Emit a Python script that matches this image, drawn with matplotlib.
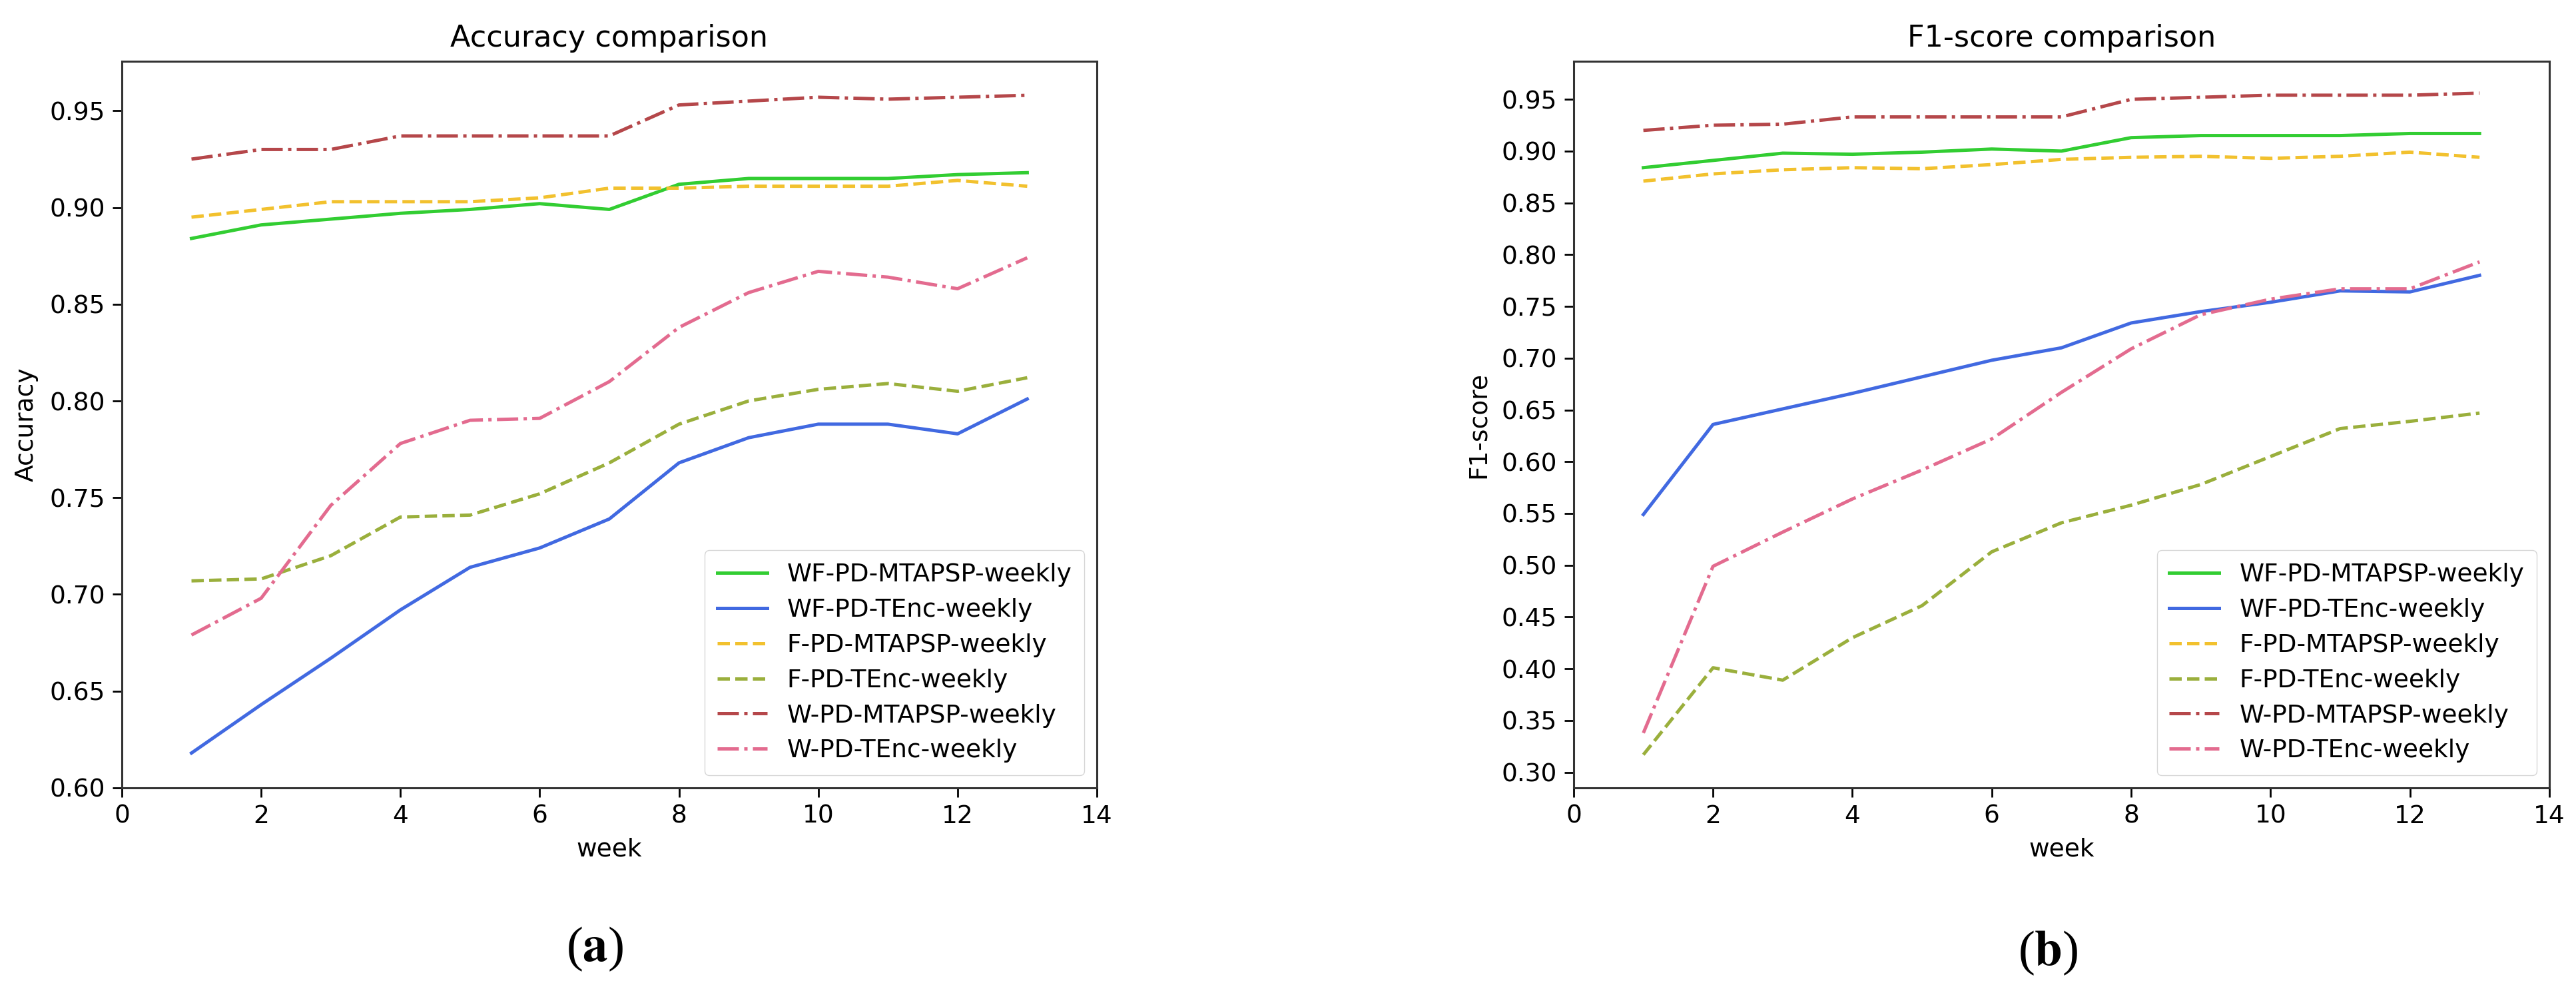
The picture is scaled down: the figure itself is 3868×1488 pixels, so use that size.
import matplotlib
matplotlib.use("Agg")
import matplotlib.pyplot as plt
from matplotlib.ticker import MultipleLocator, FormatStrFormatter

weeks = list(range(1, 14))

labels = [
    "WF-PD-MTAPSP-weekly",
    "WF-PD-TEnc-weekly",
    "F-PD-MTAPSP-weekly",
    "F-PD-TEnc-weekly",
    "W-PD-MTAPSP-weekly",
    "W-PD-TEnc-weekly",
]
colors = ["#32cd32", "#4169e1", "#f2c12e", "#9aaf3c", "#b5474a", "#e36b8f"]
styles = ["-", "-", "--", "--", "-.", "-."]

# accuracy per week
acc_wf_mtapsp = [0.884, 0.891, 0.894, 0.897, 0.899, 0.902, 0.899, 0.912, 0.915, 0.915, 0.915, 0.917, 0.918]
acc_wf_tenc = [0.618, 0.643, 0.667, 0.692, 0.714, 0.724, 0.739, 0.768, 0.781, 0.788, 0.788, 0.783, 0.801]
acc_f_mtapsp = [0.895, 0.899, 0.903, 0.903, 0.903, 0.905, 0.910, 0.910, 0.911, 0.911, 0.911, 0.914, 0.911]
acc_f_tenc = [0.707, 0.708, 0.720, 0.740, 0.741, 0.752, 0.768, 0.788, 0.800, 0.806, 0.809, 0.805, 0.812]
acc_w_mtapsp = [0.925, 0.930, 0.930, 0.937, 0.937, 0.937, 0.937, 0.953, 0.955, 0.957, 0.956, 0.957, 0.958]
acc_w_tenc = [0.679, 0.698, 0.746, 0.778, 0.790, 0.791, 0.810, 0.838, 0.856, 0.867, 0.864, 0.858, 0.874]

# f1-score per week
f1_wf_mtapsp = [0.884, 0.891, 0.898, 0.897, 0.899, 0.902, 0.900, 0.913, 0.915, 0.915, 0.915, 0.917, 0.917]
f1_wf_tenc = [0.549, 0.636, 0.651, 0.666, 0.682, 0.698, 0.710, 0.734, 0.745, 0.754, 0.765, 0.764, 0.780]
f1_f_mtapsp = [0.871, 0.878, 0.882, 0.884, 0.883, 0.887, 0.892, 0.894, 0.895, 0.893, 0.895, 0.899, 0.894]
f1_f_tenc = [0.317, 0.401, 0.389, 0.430, 0.461, 0.513, 0.541, 0.558, 0.578, 0.605, 0.632, 0.639, 0.647]
f1_w_mtapsp = [0.920, 0.925, 0.926, 0.933, 0.933, 0.933, 0.933, 0.950, 0.952, 0.954, 0.954, 0.954, 0.956]
f1_w_tenc = [0.338, 0.499, 0.532, 0.564, 0.592, 0.622, 0.667, 0.709, 0.742, 0.757, 0.767, 0.767, 0.793]

acc_series = [acc_wf_mtapsp, acc_wf_tenc, acc_f_mtapsp, acc_f_tenc, acc_w_mtapsp, acc_w_tenc]
f1_series = [f1_wf_mtapsp, f1_wf_tenc, f1_f_mtapsp, f1_f_tenc, f1_w_mtapsp, f1_w_tenc]

plt.rcParams["font.family"] = ["DejaVu Sans"]
plt.rcParams["mathtext.fontset"] = "stix"

fig = plt.figure(figsize=(38.68, 14.88), dpi=100)

panels = [
    ([0.0473, 0.205, 0.3785, 0.733], acc_series, "Accuracy comparison", "Accuracy",
     (0.600, 0.9755), "a", (0.2309, 0.042)),
    ([0.6109, 0.205, 0.3787, 0.733], f1_series, "F1-score comparison", "F1-score",
     (0.285, 0.9866), "b", (0.795, 0.038)),
]

for rect, series, title, ylabel, ylim, tag, tag_pos in panels:
    ax = fig.add_axes(rect)
    for values, label, color, ls in zip(series, labels, colors, styles):
        ax.plot(weeks, values, ls, color=color, lw=3.6, label=label)
    ax.set_xlim(0, 14)
    ax.set_ylim(*ylim)
    ax.set_xticks(range(0, 15, 2))
    ax.yaxis.set_major_locator(MultipleLocator(0.05))
    ax.yaxis.set_major_formatter(FormatStrFormatter("%.2f"))
    ax.set_title(title, fontsize=32, pad=16)
    ax.set_xlabel("week", fontsize=27, labelpad=10)
    ax.set_ylabel(ylabel, fontsize=27, labelpad=12)
    ax.tick_params(labelsize=27, length=10, width=2, pad=8)
    for spine in ax.spines.values():
        spine.set_linewidth(2.2)
        spine.set_color("#333333")
    ax.legend(loc="lower right", fontsize=27, handlelength=2.0, borderpad=0.5,
              labelspacing=0.45, framealpha=0.8)
    fig.text(tag_pos[0], tag_pos[1], r"($\mathbf{" + tag + r"}$)",
             fontsize=54, family="Liberation Serif", ha="center", va="center")

fig.savefig("out.png", dpi=100)
